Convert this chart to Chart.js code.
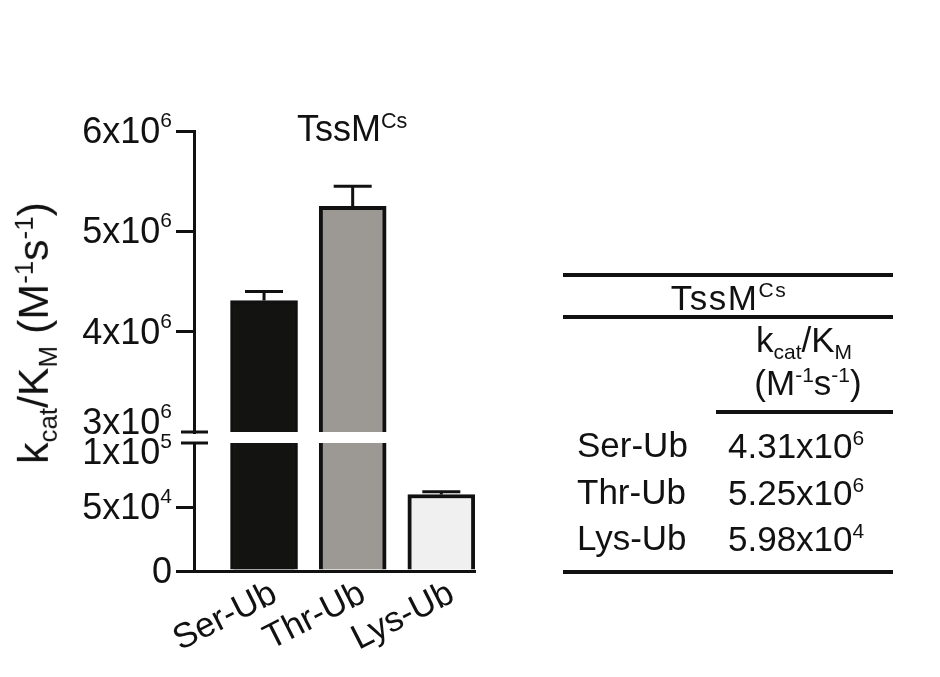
<!DOCTYPE html>
<html>
<head>
<meta charset="utf-8">
<script src="https://cdn.jsdelivr.net/npm/chart.js@4.4.0/dist/chart.umd.min.js"></script>
<style>
  body { margin: 0; background: #fff; }
  #wrap { position: relative; width: 940px; height: 677px; overflow: hidden;
          font-family: "Liberation Sans", Arial, sans-serif; color: #111; }
  canvas { position: absolute; left: 0; top: 0; }
  .txt { position: absolute; white-space: nowrap; font-size: 35px; line-height: 1; }
  .sup { font-size: 0.6em; vertical-align: 0.6em; }
  .sub { font-size: 0.6em; vertical-align: -0.35em; }
  .rule { position: absolute; height: 4px; background: #111; }
</style>
</head>
<body>
<div id="wrap">
  <canvas id="upperChart" width="940" height="677"></canvas>
  <canvas id="lowerChart" width="940" height="677"></canvas>
  <div class="txt" id="yTitle" style="font-size:43px;left:37px;top:333px;transform:translate(-50%,-50%) rotate(-90deg);">k<span class="sub">cat</span>/K<span class="sub">M</span> (M<span class="sup">-1</span>s<span class="sup">-1</span>)</div>
  <div class="txt" id="chartTitle" style="font-size:36px;left:297px;top:110px;">TssM<span class="sup">Cs</span></div>
  <div id="table"></div>
</div>
<script>
// Data
const categories = ["Ser-Ub", "Thr-Ub", "Lys-Ub"];
const values = [4.31e6, 5.25e6, 5.98e4];
const errors = [0.09e6, 0.2e6, 0.22e4];
const upperTicks = [3e6, 4e6, 5e6, 6e6];
const lowerTicks = [0, 5e4, 1e5];
const enzyme = "TssM";
const enzymeSup = "Cs";

const barColors = ["#131311", "#9c9995", "#f0f0f0"];
const FONT = '"Liberation Sans", Arial, sans-serif';

Chart.defaults.font.family = FONT;
Chart.defaults.color = "#111";

// "6x10" + "6" for a value
function splitSci(v, digits) {
  if (v === 0) return ["0", ""];
  const exp = Math.floor(Math.log10(v) + 1e-9);
  const mant = v / Math.pow(10, exp);
  const m = digits ? mant.toFixed(digits) : String(+mant.toFixed(2));
  return [m + "x10", String(exp)];
}

// tick labels with superscript exponents
const sciTicks = {
  id: "sciTicks",
  afterDraw(chart, args, opts) {
    const y = chart.scales.y;
    const ctx = chart.ctx;
    const right = chart.chartArea.left - 22;
    ctx.save();
    ctx.fillStyle = "#111";
    ctx.textAlign = "right";
    ctx.textBaseline = "alphabetic";
    y.ticks.forEach((t, i) => {
      let py = y.getPixelForValue(t.value);
      if (i === 0 && opts.shiftFirst) py += opts.shiftFirst;
      if (i === y.ticks.length - 1 && opts.shiftLast) py += opts.shiftLast;
      const [base, exp] = splitSci(t.value);
      ctx.font = "21px " + FONT;
      const expW = exp ? ctx.measureText(exp).width : 0;
      if (exp) ctx.fillText(exp, right, py - 4);
      ctx.font = "36px " + FONT;
      ctx.fillText(base, right - expW, py + 12);
    });
    ctx.restore();
  }
};

// upward error bars with caps
const errorBars = {
  id: "errorBars",
  afterDatasetsDraw(chart) {
    const { ctx, chartArea } = chart;
    const y = chart.scales.y;
    const meta = chart.getDatasetMeta(0);
    ctx.save();
    ctx.beginPath();
    ctx.rect(chartArea.left, chartArea.top - 2, chartArea.width, chartArea.height + 2);
    ctx.clip();
    ctx.strokeStyle = "#111";
    ctx.lineWidth = 3;
    meta.data.forEach((bar, i) => {
      const yTop = y.getPixelForValue(values[i] + errors[i]);
      ctx.beginPath();
      ctx.moveTo(bar.x, bar.y);
      ctx.lineTo(bar.x, yTop);
      ctx.moveTo(bar.x - 19, yTop);
      ctx.lineTo(bar.x + 19, yTop);
      ctx.stroke();
    });
    ctx.restore();
  }
};

// axis break marks
const breakMark = {
  id: "breakMark",
  afterDraw(chart, args, opts) {
    const { ctx, chartArea } = chart;
    const yb = opts.edge === "bottom" ? chartArea.bottom : chartArea.top;
    ctx.save();
    ctx.strokeStyle = "#111";
    ctx.lineWidth = 3;
    ctx.beginPath();
    ctx.moveTo(chartArea.left - 13, yb);
    ctx.lineTo(chartArea.left + 14, yb);
    ctx.stroke();
    ctx.restore();
  }
};

const xMin = -0.79, xMax = 2.38;
const labelNudge = 0.12; // rotated labels sit a little right of the bar centre

function makeChart(id, yTicks, part) {
  const isUpper = part === "upper";
  return new Chart(document.getElementById(id), {
    type: "bar",
    data: {
      datasets: [{
        data: values.map((v, i) => ({ x: i, y: v })),
        backgroundColor: barColors,
        borderColor: "#111",
        borderWidth: 4,
        barThickness: 67,
        clip: 0
      }]
    },
    options: {
      responsive: false,
      animation: false,
      layout: {
        padding: isUpper
          ? { left: 174, top: 131, right: 465, bottom: 245 }
          : { left: 174, top: 443, right: 465, bottom: 6 }
      },
      plugins: {
        legend: { display: false },
        tooltip: { enabled: false },
        sciTicks: isUpper ? { shiftFirst: -10 } : { shiftLast: 9 },
        breakMark: { edge: isUpper ? "bottom" : "top" }
      },
      scales: {
        x: {
          type: "linear",
          min: xMin,
          max: xMax,
          offset: false,
          display: !isUpper,
          afterBuildTicks: (s) => { s.ticks = categories.map((c, i) => ({ value: i + labelNudge })); },
          afterFit: (s) => { s.height = isUpper ? 0 : 100; },
          grid: { display: false, offset: false },
          border: { display: true, width: 3, color: "#111" },
          ticks: {
            callback: (v) => categories[Math.round(v)] ?? "",
            minRotation: 27,
            maxRotation: 27,
            padding: -6,
            color: "#111",
            font: { size: 35 }
          }
        },
        y: {
          min: yTicks[0],
          max: yTicks[yTicks.length - 1],
          afterBuildTicks: (s) => { s.ticks = yTicks.map((v) => ({ value: v })); },
          afterFit: (s) => { s.width = 20; },
          grid: {
            display: true,
            drawOnChartArea: false,
            drawTicks: true,
            tickLength: 18,
            lineWidth: 3,
            color: (c) => {
              const v = c.tick ? c.tick.value : null;
              const hide = isUpper ? v === yTicks[0] : v === yTicks[yTicks.length - 1];
              return hide ? "rgba(0,0,0,0)" : "#111";
            }
          },
          border: { display: true, width: 3, color: "#111" },
          ticks: { display: false }
        }
      }
    },
    plugins: [errorBars, sciTicks, breakMark]
  });
}

makeChart("upperChart", upperTicks, "upper");
makeChart("lowerChart", lowerTicks, "lower");

// summary table on the right
const table = document.getElementById("table");
function addText(html, x, baseline, align, size) {
  const el = document.createElement("div");
  el.className = "txt";
  el.style.fontSize = size + "px";
  el.innerHTML = html;
  el.style.top = (baseline - 0.8465 * size) + "px";
  el.style.left = x + "px";
  if (align === "center") el.style.transform = "translateX(-50%)";
  table.appendChild(el);
  return el;
}
function addRule(x1, x2, yc) {
  const el = document.createElement("div");
  el.className = "rule";
  el.style.left = x1 + "px";
  el.style.width = (x2 - x1) + "px";
  el.style.top = (yc - 2) + "px";
  table.appendChild(el);
}
addRule(563, 893, 275);
addRule(563, 893, 317);
addRule(716, 893, 412);
addRule(563, 893, 572);
addText(enzyme + '<span class="sup">' + enzymeSup + "</span>", 729, 309, "center", 35).style.letterSpacing = "1.5px";
addText('k<span class="sub">cat</span>/K<span class="sub">M</span>', 804, 352, "center", 35);
addText('(M<span class="sup">-1</span>s<span class="sup">-1</span>)', 808, 394, "center", 35);
categories.forEach((c, i) => {
  const base = 457 + i * 46.5;
  const [m, e] = splitSci(values[i], 2);
  addText(c, 577, base, "left", 35);
  addText(m + '<span class="sup">' + e + "</span>", 728, base, "left", 35);
});
</script>
</body>
</html>
